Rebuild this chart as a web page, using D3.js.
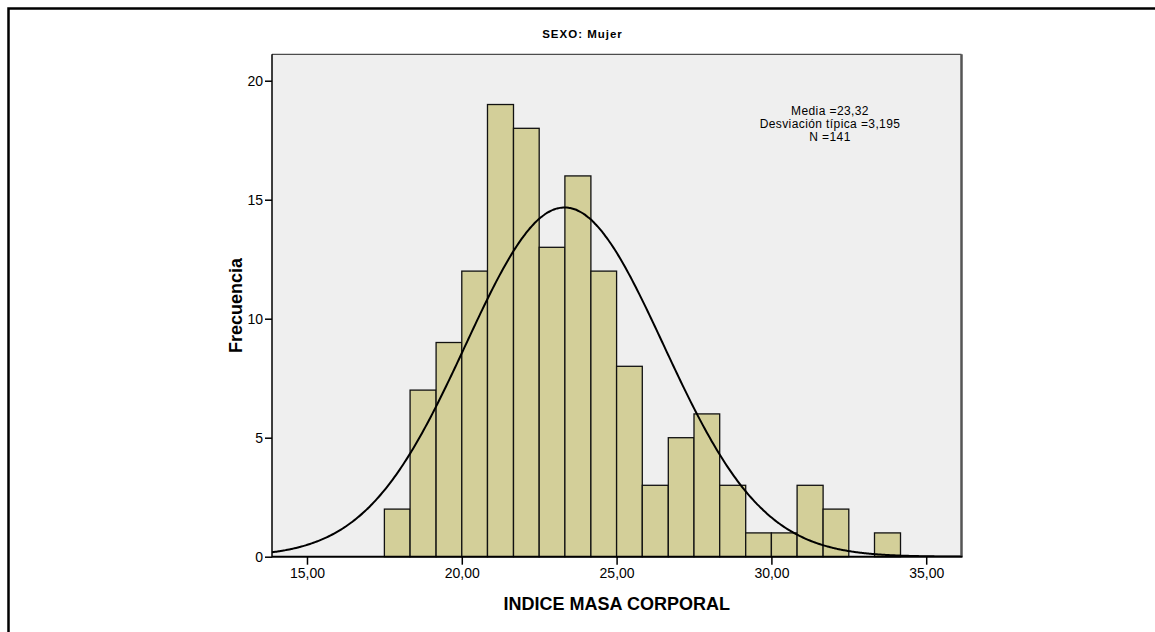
<!DOCTYPE html>
<html>
<head>
<meta charset="utf-8">
<script src="https://cdn.jsdelivr.net/npm/d3@7/dist/d3.min.js"></script>
<style>
  html, body { margin: 0; padding: 0; background: #fff; }
  svg { display: block; }
  text { font-family: "Liberation Sans", Arial, Helvetica, sans-serif; fill: #000; }
</style>
</head>
<body>
<svg id="chart" width="1155" height="632"></svg>
<script>
// Histogram of body-mass index (women) with fitted normal curve
const binEdges = [17.50, 18.33, 19.17, 20.00, 20.83, 21.67, 22.50, 23.33, 24.17, 25.00,
                  25.83, 26.67, 27.50, 28.33, 29.17, 30.00, 30.83, 31.67, 32.50, 33.33, 34.17];
const counts   = [2, 7, 9, 12, 19, 18, 13, 16, 12, 8, 3, 5, 6, 3, 1, 1, 3, 2, 0, 1];
const mean = 23.32;
const stdDev = 3.195;
const xTicks = [15, 20, 25, 30, 35];
const yTicks = [0, 5, 10, 15, 20];
const xDomain = [13.87, 36.14];
const yDomain = [0, 21.11];
const panelTitle = "SEXO: Mujer";
const xTitle = "INDICE MASA CORPORAL";
const yTitle = "Frecuencia";

const N = d3.sum(counts);
const binWidth = (binEdges[binEdges.length - 1] - binEdges[0]) / counts.length;
const bins = counts.map((c, i) => ({ x0: binEdges[i], x1: binEdges[i + 1], count: c }));

const svg = d3.select("#chart");
const plot = { left: 272, right: 961.5, top: 54.3, bottom: 556.7 };

const x = d3.scaleLinear().domain(xDomain).range([plot.left, plot.right]);
const y = d3.scaleLinear().domain(yDomain).range([plot.bottom, plot.top]);

const commaNum = (fmt) => (v) => d3.format(fmt)(v).replace(".", ",");

// outer frame
svg.append("path")
  .attr("d", `M8.5,632 V8.5 H1155`)
  .attr("fill", "none").attr("stroke", "#000").attr("stroke-width", 2.5);

// plot background
svg.append("rect")
  .attr("x", plot.left).attr("y", plot.top)
  .attr("width", plot.right - plot.left).attr("height", plot.bottom - plot.top)
  .attr("fill", "#efefef");

svg.append("defs").append("clipPath").attr("id", "plotClip")
  .append("rect")
  .attr("x", plot.left).attr("y", plot.top)
  .attr("width", plot.right - plot.left).attr("height", plot.bottom - plot.top);

// bars
svg.append("g").selectAll("rect")
  .data(bins.filter(b => b.count > 0))
  .join("rect")
  .attr("x", d => x(d.x0))
  .attr("y", d => y(d.count))
  .attr("width", d => x(d.x1) - x(d.x0))
  .attr("height", d => y(0) - y(d.count))
  .attr("fill", "#d3cf99")
  .attr("stroke", "#111")
  .attr("stroke-width", 1.3);

// normal curve scaled to counts
const normalPdf = v => Math.exp(-((v - mean) ** 2) / (2 * stdDev * stdDev)) / (stdDev * Math.sqrt(2 * Math.PI));
const curveXs = d3.range(0, 401).map(i => xDomain[0] + (xDomain[1] - xDomain[0]) * i / 400);
const line = d3.line()
  .x(v => x(v))
  .y(v => y(N * binWidth * normalPdf(v)))
  .curve(d3.curveBasis);
svg.append("path")
  .datum(curveXs)
  .attr("clip-path", "url(#plotClip)")
  .attr("d", line)
  .attr("fill", "none")
  .attr("stroke", "#000")
  .attr("stroke-width", 2);

// plot border: top and right
svg.append("line")
  .attr("x1", plot.left).attr("x2", plot.right)
  .attr("y1", plot.top).attr("y2", plot.top)
  .attr("stroke", "#222").attr("stroke-width", 1);
svg.append("line")
  .attr("x1", plot.right).attr("x2", plot.right)
  .attr("y1", plot.top).attr("y2", plot.bottom)
  .attr("stroke", "#555").attr("stroke-width", 2.5);

// axes
const yAxis = d3.axisLeft(y).tickValues(yTicks).tickSize(7).tickPadding(2).tickFormat(d3.format("d"));
const gy = svg.append("g").attr("transform", `translate(${plot.left},0)`).call(yAxis);
gy.select(".domain").remove();
gy.selectAll(".tick line").attr("stroke", "#000").attr("stroke-width", 1.5);
gy.selectAll(".tick text").attr("font-size", 14).attr("font-family", null);

const xAxis = d3.axisBottom(x).tickValues(xTicks).tickSize(8).tickPadding(3).tickFormat(commaNum(".2f"));
const gx = svg.append("g").attr("transform", `translate(0,${plot.bottom})`).call(xAxis);
gx.select(".domain").remove();
gx.selectAll(".tick line").attr("stroke", "#000").attr("stroke-width", 1.5);
gx.selectAll(".tick text").attr("font-size", 14).attr("font-family", null);

svg.append("line")
  .attr("x1", plot.left).attr("x2", plot.left)
  .attr("y1", plot.top).attr("y2", plot.bottom + 0.5)
  .attr("stroke", "#000").attr("stroke-width", 1.5);
svg.append("line")
  .attr("x1", plot.left).attr("x2", plot.right + 1)
  .attr("y1", plot.bottom).attr("y2", plot.bottom)
  .attr("stroke", "#000").attr("stroke-width", 2);

// titles
svg.append("text")
  .attr("x", 582.5).attr("y", 38.3)
  .attr("text-anchor", "middle")
  .attr("font-size", 11.5).attr("font-weight", "bold")
  .attr("letter-spacing", 1)
  .text(panelTitle);

svg.append("text")
  .attr("x", (plot.left + plot.right) / 2).attr("y", 609.5)
  .attr("text-anchor", "middle")
  .attr("font-size", 18).attr("font-weight", "bold")
  .text(xTitle);

svg.append("text")
  .attr("transform", `translate(241.5,${(plot.top + plot.bottom) / 2}) rotate(-90)`)
  .attr("text-anchor", "middle")
  .attr("font-size", 18).attr("font-weight", "bold")
  .text(yTitle);

// statistics box
const stats = [
  `Media =${commaNum(".2f")(mean)}`,
  `Desviación típica =${commaNum(".3f")(stdDev)}`,
  `N =${N}`
];
svg.append("g").selectAll("text")
  .data(stats)
  .join("text")
  .attr("x", 830)
  .attr("y", (d, i) => 115 + i * 13.2)
  .attr("text-anchor", "middle")
  .attr("font-size", 12)
  .attr("letter-spacing", 0.4)
  .text(d => d);
</script>
</body>
</html>
